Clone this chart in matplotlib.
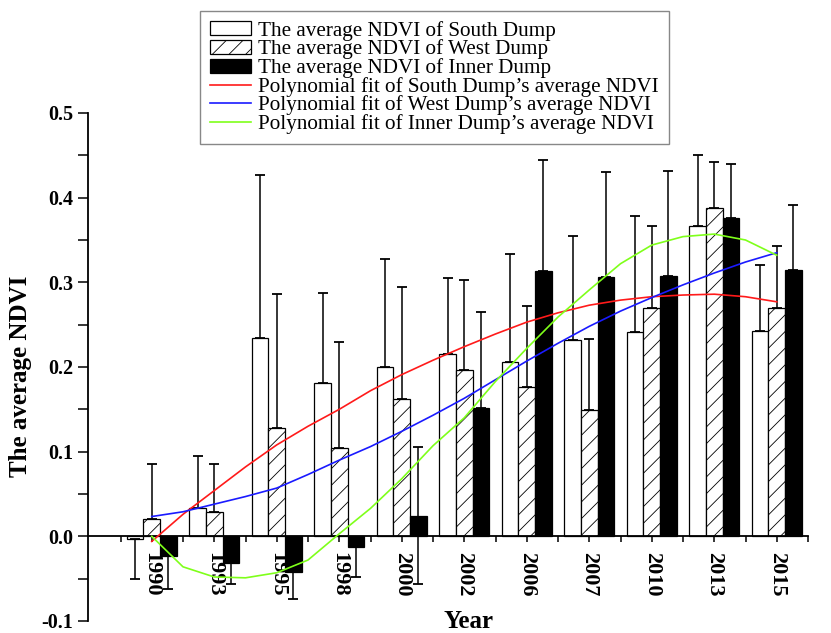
import numpy as np
import matplotlib
matplotlib.use("Agg")
import matplotlib.pyplot as plt
from matplotlib.patches import Patch
from matplotlib.lines import Line2D
from matplotlib.ticker import MultipleLocator, FixedLocator, FormatStrFormatter

years = ['1990', '1993', '1995', '1998', '2000', '2002', '2006', '2007', '2010', '2013', '2015']

south = [-0.003, 0.033, 0.234, 0.181, 0.200, 0.2155, 0.206, 0.232, 0.241, 0.367, 0.242]
south_lo = [0.047, 0, 0, 0, 0, 0, 0, 0, 0, 0, 0]
south_hi = [0, 0.062, 0.193, 0.106, 0.127, 0.090, 0.127, 0.123, 0.137, 0.083, 0.079]

west = [0.020, 0.0285, 0.128, 0.1046, 0.162, 0.196, 0.1764, 0.1495, 0.270, 0.388, 0.270]
west_lo = [0, 0, 0, 0, 0, 0, 0, 0, 0, 0, 0]
west_hi = [0.066, 0.057, 0.158, 0.125, 0.132, 0.107, 0.096, 0.084, 0.096, 0.054, 0.073]

inner = [-0.0234, -0.031, -0.042, -0.0125, 0.0246, 0.151, 0.3134, 0.3064, 0.308, 0.3755, 0.315]
inner_lo = [0.039, 0.025, 0.032, 0.035, 0.081, 0, 0, 0, 0, 0, 0]
inner_hi = [0, 0, 0, 0, 0.081, 0.114, 0.131, 0.124, 0.123, 0.064, 0.076]

fit_south = [-0.006, 0.026, 0.054, 0.082, 0.108, 0.130, 0.150, 0.172, 0.191, 0.208,
             0.224, 0.239, 0.253, 0.264, 0.273, 0.279, 0.283, 0.285, 0.286, 0.283, 0.277]
fit_west = [0.0234, 0.029, 0.038, 0.047, 0.057, 0.073, 0.090, 0.106, 0.124, 0.143,
            0.163, 0.185, 0.207, 0.228, 0.248, 0.266, 0.282, 0.297, 0.311, 0.324, 0.335]
fit_inner = [0.000, -0.036, -0.048, -0.049, -0.043, -0.028, 0.003, 0.033, 0.068, 0.107,
             0.140, 0.183, 0.222, 0.259, 0.291, 0.322, 0.344, 0.354, 0.357, 0.350, 0.332]

labels_bar = ['The average NDVI of South Dump',
              'The average NDVI of West Dump',
              'The average NDVI of Inner Dump']
labels_fit = ['Polynomial fit of South Dump\u2019s average NDVI',
              'Polynomial fit of West Dump\u2019s average NDVI',
              'Polynomial fit of Inner Dump\u2019s average NDVI']

plt.rcParams['font.family'] = ['Liberation Serif', 'DejaVu Serif']
plt.rcParams['axes.unicode_minus'] = False
plt.rcParams['hatch.linewidth'] = 0.6

fig = plt.figure(figsize=(8.31, 6.33), dpi=100)
ax = fig.add_axes([88/831, 12/633, (808-88)/831, (621-113)/633])

x = np.arange(len(years))
w = 0.2667
ekw = dict(elinewidth=1.1, capthick=1.3, ecolor='black')
ax.bar(x - w, south, w, color='white', edgecolor='black', linewidth=0.9,
       yerr=[south_lo, south_hi], capsize=3.3, error_kw=ekw, zorder=2)
ax.bar(x, west, w, color='white', edgecolor='black', linewidth=0.9, hatch='//',
       yerr=[west_lo, west_hi], capsize=3.3, error_kw=ekw, zorder=2)
ax.bar(x + w, inner, w, color='black', edgecolor='black', linewidth=0.9,
       yerr=[inner_lo, inner_hi], capsize=3.3, error_kw=ekw, zorder=2)

xf = np.arange(len(fit_south)) * 0.5
fit_colors = ['#ff1a1a', '#1a1aff', '#7fff1a']
for vals, col in zip([fit_south, fit_west, fit_inner], fit_colors):
    ax.plot(xf, vals, color=col, lw=1.2, zorder=3, solid_joinstyle='round')

ax.set_xlim(-1.02, 10.5)
ax.set_ylim(-0.1, 0.5)
for s in ['top', 'right']:
    ax.spines[s].set_visible(False)
ax.spines['bottom'].set_position(('data', 0))
ax.spines['bottom'].set_linewidth(1.3)
ax.spines['left'].set_linewidth(1.3)

ax.set_xticks(x)
ax.set_xticklabels(years, rotation=-90, fontsize=16, fontweight='bold', va='top')
ax.xaxis.set_minor_locator(FixedLocator(np.arange(-0.5, 10.6, 1.0)))
ax.tick_params(axis='x', which='both', direction='out', length=4, width=1.1, pad=7)

ax.yaxis.set_major_locator(MultipleLocator(0.1))
ax.yaxis.set_minor_locator(MultipleLocator(0.05))
ax.yaxis.set_major_formatter(FormatStrFormatter('%.1f'))
ax.tick_params(axis='y', which='both', direction='out', length=7, width=1.1, pad=3.5,
               labelsize=14.5)
for t in ax.get_yticklabels():
    t.set_fontweight('bold')

fig.text(21/831, 1 - 376/633, 'The average NDVI', rotation=90, ha='center', va='center',
         fontsize=18, fontweight='bold')
fig.text(469/831, 1 - 621/633, 'Year', ha='center', va='center',
         fontsize=18, fontweight='bold')

handles = [Patch(facecolor='white', edgecolor='black', linewidth=0.9),
           Patch(facecolor='white', edgecolor='black', linewidth=0.9, hatch='//'),
           Patch(facecolor='black', edgecolor='black', linewidth=0.9)]
handles += [Line2D([], [], color=c, lw=1.2) for c in fit_colors]
leg = fig.legend(handles, labels_bar + labels_fit, loc='upper left',
                 bbox_to_anchor=(200/831, 1 - 11/633), bbox_transform=fig.transFigure,
                 borderaxespad=0, fontsize=15.25, labelspacing=-0.06, handlelength=1.95,
                 handleheight=0.65, handletextpad=0.32, borderpad=0.47, fancybox=False,
                 framealpha=1, edgecolor='#888888')
leg.get_frame().set_linewidth(1.0)

fig.savefig('out.png', dpi=100)
